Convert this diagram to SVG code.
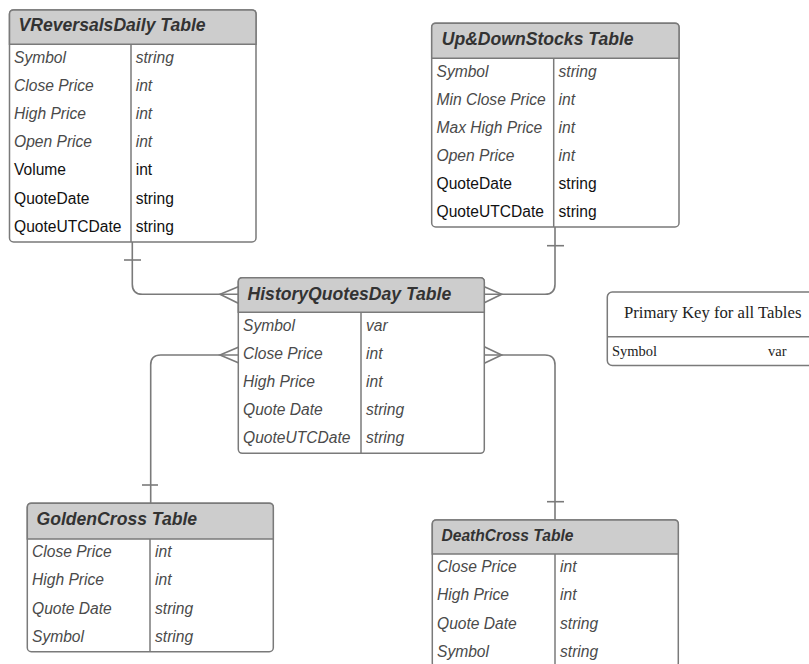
<svg xmlns="http://www.w3.org/2000/svg" width="809" height="664" viewBox="0 0 809 664">
<style>
.box{fill:#fff;stroke:#7a7a7a;stroke-width:1.5}
.hdr{fill:#cdcdcd;stroke:#7a7a7a;stroke-width:1.5}
.ln{stroke:#7a7a7a;stroke-width:1.5;fill:none}
.conn{stroke:#7a7a7a;stroke-width:1.6;fill:none;stroke-linejoin:miter}
.title{font-family:"Liberation Sans",Arial,sans-serif;font-size:17.6px;font-weight:bold;font-style:italic;fill:#333}
.it{font-family:"Liberation Sans",Arial,sans-serif;font-size:15.6px;font-style:italic;fill:#4a4a4a}
.rg{font-family:"Liberation Sans",Arial,sans-serif;font-size:15.6px;fill:#111}
.sf{font-family:"Liberation Serif","Times New Roman",serif;font-size:16.7px;fill:#222}
</style>

<g id="connectors">
  <path class="conn" d="M132.3 242 V284.3 Q132.3 294.3 142.3 294.3 H238.3"/>
  <path class="conn" d="M124 260 H141"/>
  <path class="conn" d="M238.3 286.7 L220 294.3 L238.3 303.3"/>

  <path class="conn" d="M555 227 V284.3 Q555 294.3 545 294.3 H484.3"/>
  <path class="conn" d="M547 245.7 H564"/>
  <path class="conn" d="M484.3 286.7 L501.7 294.3 L484.3 302.7"/>

  <path class="conn" d="M238.3 355 H160.7 Q150.7 355 150.7 365 V503.3"/>
  <path class="conn" d="M142 485 H158"/>
  <path class="conn" d="M238.3 347.3 L220 355 L238.3 362.7"/>

  <path class="conn" d="M484.3 355 H545 Q555 355 555 365 V520"/>
  <path class="conn" d="M547 501.7 H564"/>
  <path class="conn" d="M484.3 346.7 L501.7 355 L484.3 363.3"/>
</g>

<g id="vreversals">
  <rect class="box" x="9.5" y="10" width="246.5" height="232" rx="4"/>
  <path class="hdr" d="M9.5 44.3 V14 Q9.5 10 13.5 10 H252 Q256 10 256 14 V44.3 Z"/>
  <path class="ln" d="M131 44.3 V242"/>
  <text class="title" x="18.5" y="31">VReversalsDaily Table</text>
  <text class="it" x="14" y="62.5">Symbol</text><text class="it" x="135.7" y="62.5">string</text>
  <text class="it" x="14" y="90.7">Close Price</text><text class="it" x="135.7" y="90.7">int</text>
  <text class="it" x="14" y="119">High Price</text><text class="it" x="135.7" y="119">int</text>
  <text class="it" x="14" y="147.2">Open Price</text><text class="it" x="135.7" y="147.2">int</text>
  <text class="rg" x="14" y="175.4">Volume</text><text class="rg" x="135.7" y="175.4">int</text>
  <text class="rg" x="14" y="203.7">QuoteDate</text><text class="rg" x="135.7" y="203.7">string</text>
  <text class="rg" x="14" y="231.9">QuoteUTCDate</text><text class="rg" x="135.7" y="231.9">string</text>
</g>

<g id="updownstocks">
  <rect class="box" x="431.7" y="23.3" width="247.3" height="203.7" rx="4"/>
  <path class="hdr" d="M431.7 58.3 V27.3 Q431.7 23.3 435.7 23.3 H675 Q679 23.3 679 27.3 V58.3 Z"/>
  <path class="ln" d="M553.7 58.3 V227"/>
  <text class="title" x="441.7" y="44.5">Up&amp;DownStocks Table</text>
  <text class="it" x="436.5" y="76.5">Symbol</text><text class="it" x="558.5" y="76.5">string</text>
  <text class="it" x="436.5" y="104.6">Min Close Price</text><text class="it" x="558.5" y="104.6">int</text>
  <text class="it" x="436.5" y="132.7">Max High Price</text><text class="it" x="558.5" y="132.7">int</text>
  <text class="it" x="436.5" y="160.8">Open Price</text><text class="it" x="558.5" y="160.8">int</text>
  <text class="rg" x="436.5" y="188.9">QuoteDate</text><text class="rg" x="558.5" y="188.9">string</text>
  <text class="rg" x="436.5" y="217">QuoteUTCDate</text><text class="rg" x="558.5" y="217">string</text>
</g>

<g id="historyquotesday">
  <rect class="box" x="238.3" y="277.7" width="246" height="175.6" rx="4"/>
  <path class="hdr" d="M238.3 312.3 V281.7 Q238.3 277.7 242.3 277.7 H480.3 Q484.3 277.7 484.3 281.7 V312.3 Z"/>
  <path class="ln" d="M361 312.3 V453.3"/>
  <text class="title" x="247.5" y="299.5">HistoryQuotesDay Table</text>
  <text class="it" x="243" y="330.5">Symbol</text><text class="it" x="366" y="330.5">var</text>
  <text class="it" x="243" y="358.7">Close Price</text><text class="it" x="366" y="358.7">int</text>
  <text class="it" x="243" y="386.9">High Price</text><text class="it" x="366" y="386.9">int</text>
  <text class="it" x="243" y="415.1">Quote Date</text><text class="it" x="366" y="415.1">string</text>
  <text class="it" x="243" y="443.3">QuoteUTCDate</text><text class="it" x="366" y="443.3">string</text>
</g>

<g id="primarykey">
  <rect class="box" x="607.3" y="292" width="215" height="73.5" rx="5"/>
  <path class="ln" d="M607.3 336.7 H812"/>
  <text class="sf" x="624" y="317.5">Primary Key for all Tables</text>
  <text class="sf" x="612" y="355.5" style="font-size:14.5px">Symbol</text>
  <text class="sf" x="768" y="355.5" style="font-size:14.5px">var</text>
</g>

<g id="goldencross">
  <rect class="box" x="27.3" y="503.3" width="246" height="148.4" rx="4"/>
  <path class="hdr" d="M27.3 539 V507.3 Q27.3 503.3 31.3 503.3 H269.3 Q273.3 503.3 273.3 507.3 V539 Z"/>
  <path class="ln" d="M150 539 V651.7"/>
  <text class="title" x="36.5" y="525">GoldenCross Table</text>
  <text class="it" x="32" y="557.2">Close Price</text><text class="it" x="155" y="557.2">int</text>
  <text class="it" x="32" y="585.4">High Price</text><text class="it" x="155" y="585.4">int</text>
  <text class="it" x="32" y="613.6">Quote Date</text><text class="it" x="155" y="613.6">string</text>
  <text class="it" x="32" y="641.8">Symbol</text><text class="it" x="155" y="641.8">string</text>
</g>

<g id="deathcross">
  <rect class="box" x="432.3" y="520" width="246" height="147" rx="4"/>
  <path class="hdr" d="M432.3 554 V524 Q432.3 520 436.3 520 H674.3 Q678.3 520 678.3 524 V554 Z"/>
  <path class="ln" d="M555 554 V667"/>
  <text class="title" x="441.5" y="540.5" style="font-size:15.6px">DeathCross Table</text>
  <text class="it" x="437" y="572.2">Close Price</text><text class="it" x="560" y="572.2">int</text>
  <text class="it" x="437" y="600.4">High Price</text><text class="it" x="560" y="600.4">int</text>
  <text class="it" x="437" y="628.6">Quote Date</text><text class="it" x="560" y="628.6">string</text>
  <text class="it" x="437" y="656.8">Symbol</text><text class="it" x="560" y="656.8">string</text>
</g>
</svg>
